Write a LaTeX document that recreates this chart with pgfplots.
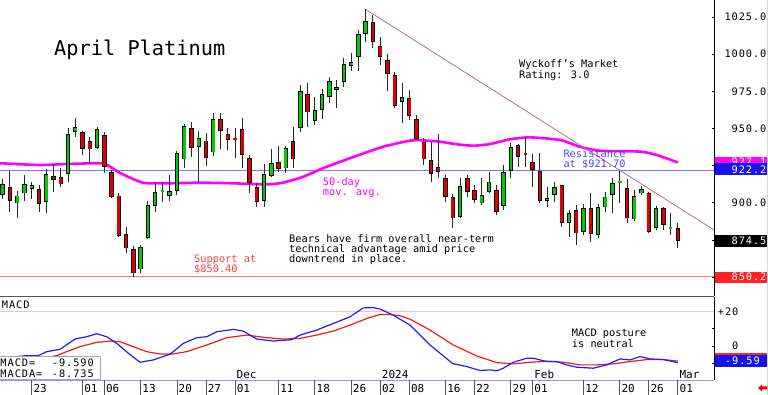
\documentclass[border=0pt]{standalone}
\usepackage{fontspec}
\setmainfont{DejaVu Sans Mono}
\newfontfamily\axf[LetterSpace=9]{DejaVu Sans Mono}
\usepackage{pgfplots}
\usepackage{pgfplotstable}
\pgfplotsset{compat=1.18}
\definecolor{cgreen}{RGB}{0,205,0}
\definecolor{cred}{RGB}{222,0,0}
\definecolor{mag}{RGB}{255,0,255}
\definecolor{resblue}{RGB}{120,120,255}
\definecolor{restext}{RGB}{70,70,255}
\definecolor{supred}{RGB}{255,120,120}
\definecolor{suptext}{RGB}{255,60,60}
\definecolor{trend}{RGB}{180,110,140}
\definecolor{boxblue}{RGB}{20,20,235}
\definecolor{boxred}{RGB}{255,35,35}
\definecolor{mblue}{RGB}{30,30,245}
\definecolor{mred}{RGB}{245,25,25}
\definecolor{sepgray}{RGB}{85,85,85}
\definecolor{pinkline}{RGB}{255,190,190}
\newcommand\af{\axf\fontsize{10.3}{12}\selectfont}
\newcommand\nf{\fontsize{10.3}{12}\selectfont}
\newcommand\df{\fontsize{11}{12}\selectfont}

\pgfplotsset{
  ebar/.style 2 args={draw=none, no markers, forget plot,
    error bars/.cd, y dir=plus, y explicit, error mark=none,
    error bar style={draw=#1, line width=#2, line cap=butt}},
}

\pgfplotstableread{
i o h l c
-4 905.2 915.7 902.3 912.6
-2 899.6 907.7 889.5 904.8
-1 906.3 918.7 901.2 912.4
0 909.5 914.2 902.5 911.7
2 900.7 922.5 892.9 919.3
5 919.3 950.1 913.7 946.0
6 947.4 956.8 944.0 950.7
9 937.0 951.2 936.1 949.8
15 855.2 871.6 852.5 870.0
16 876.5 901.4 875.4 898.5
17 898.0 913.5 894.0 907.4
19 904.8 918.7 901.4 907.7
20 908.1 934.8 905.2 933.2
21 929.2 952.7 923.1 951.6
23 937.7 948.3 914.2 943.3
25 933.9 960.6 931.7 956.3
32 901.2 926.1 896.9 919.1
33 918.0 936.1 917.1 926.5
35 923.1 938.4 919.8 936.6
37 950.1 979.2 947.8 975.2
39 955.2 970.9 952.3 962.4
40 962.4 976.3 956.1 973.0
41 971.4 984.4 966.9 982.1
42 975.9 982.6 964.0 978.1
43 981.5 997.6 977.7 993.1
44 992.0 1001.0 988.7 994.9
45 997.9 1016.2 988.9 1013.5
46 1013.5 1030.1 1008.4 1022.3
51 968.0 980.4 953.4 970.9
59 890.6 916.4 889.5 911.3
62 899.6 916.4 898.5 905.2
63 907.5 920.9 906.3 914.2
65 897.8 925.4 895.1 920.9
66 921.6 940.0 916.4 937.7
71 901.4 910.4 896.9 903.0
72 905.2 914.2 900.7 910.4
74 886.2 895.1 876.7 892.9
76 880.5 899.2 878.3 896.2
78 878.3 899.2 876.1 896.9
79 896.9 907.5 894.0 904.1
80 905.2 916.4 893.3 913.1
83 888.8 908.6 887.9 904.5
84 906.3 911.3 905.2 909.0
86 883.2 897.8 881.7 896.2
}\up

\pgfplotstableread{
i o h l c
-3 910.4 921.3 893.5 901.4
1 909.0 911.9 894.0 899.1
3 918.0 925.8 907.0 915.3
4 917.1 923.6 910.8 912.4
7 947.6 948.3 931.9 936.4
8 941.3 944.4 925.8 935.9
10 945.4 947.8 919.8 924.2
11 920.9 922.0 903.4 904.1
12 904.8 906.3 877.2 877.8
13 878.7 883.9 866.0 869.3
14 868.9 871.1 850.2 852.5
22 950.1 954.3 931.0 937.0
24 941.8 946.7 924.7 929.9
26 956.3 960.1 936.1 948.3
27 946.0 950.0 935.5 942.2
29 949.4 956.8 923.1 932.1
30 930.3 932.1 906.3 913.5
31 910.4 913.5 897.3 900.7
34 927.2 938.4 920.9 922.7
36 941.5 951.2 923.1 929.2
38 973.0 980.4 950.7 960.8
47 1021.4 1026.3 1003.9 1008.4
48 1005.5 1011.8 992.7 997.9
49 996.1 1000.1 975.4 986.6
50 986.0 988.2 963.5 965.1
52 970.2 975.9 955.7 958.4
53 956.4 959.0 942.2 942.7
54 941.1 943.3 925.4 929.2
55 928.8 941.1 914.2 919.3
56 923.8 946.0 916.4 920.9
57 916.4 918.7 900.7 904.1
58 903.7 905.7 882.8 889.5
60 916.4 918.7 904.1 907.5
61 908.6 912.0 899.6 901.9
64 908.6 912.0 891.8 894.0
67 938.9 939.5 924.3 931.0
69 927.6 932.8 910.4 922.0
70 921.6 933.3 900.1 901.4
73 912.0 912.0 883.9 886.6
75 895.1 898.5 871.6 879.4
77 896.2 906.8 873.8 879.0
82 909.7 915.8 886.6 889.5
85 906.3 907.5 879.4 880.5
87 896.2 897.4 881.7 885.0
89 882.8 886.6 869.3 874.5
}\down

\pgfplotstableread{
i o h l c
18 907.9 914.2 900.2 908.3
81 913.5 921.6 900.1 913.9
88 883.0 892.9 878.3 883.4
}\dojiup

\pgfplotstableread{
i o h l c
28 943.1 950.1 929.9 942.7
68 932.7 944.0 924.3 932.3
}\dojidown

\pgfplotstableread{
i v
-4.37 926.6
1.1 925.4
4.9 926.1
9.4 926.6
10.4 925.4
12.2 920.0
15.3 913.5
18.6 913.1
23.2 913.5
27.7 913.1
31.4 912.4
32.8 912.4
34.6 913.5
37.4 917.5
40.1 923.2
43.8 929.9
48.4 937.7
52.1 941.8
53.1 942.2
56.2 941.1
58.6 939.3
60.8 938.4
63.1 939.5
65.9 942.7
68.6 944.0
72.8 942.2
75.5 937.7
78.3 935.0
83.8 934.4
86.1 932.1
89.0 927.1
}\ma

\pgfplotstableread{
i v
-4.3 -7.0
-2.5 -6.3
-0.69 -5.56
0.91 -5.56
2.07 -3.26
3.90 -1.92
5.96 4.02
7.57 5.36
8.95 7.09
10.33 5.36
11.71 1.53
13.31 -4.21
14.92 -9.39
16.75 -8.05
19.05 -4.79
20.88 1.53
22.73 4.79
24.10 5.36
25.48 8.24
27.77 9.58
29.15 8.62
30.99 4.02
33.28 2.87
35.81 3.64
36.96 6.32
39.26 9.20
41.54 13.03
43.84 16.86
45.67 22.03
47.05 22.22
48.0 21.3
49.81 17.82
52.11 12.07
54.86 0.57
57.99 -10.15
59.92 -11.88
61.75 -14.18
63.13 -13.79
64.05 -14.37
64.96 -12.84
66.34 -9.39
68.18 -7.09
69.10 -7.09
70.94 -9.0
72.31 -9.0
73.69 -10.92
75.07 -12.26
77.35 -12.84
79.20 -10.92
81.03 -7.47
82.41 -8.05
83.79 -6.13
85.16 -7.47
87.0 -7.85
89.0 -9.59
}\macd

\pgfplotstableread{
i v
-4.3 -9.0
0.5 -7.8
3.44 -5.56
4.82 -3.26
6.65 -0.38
8.95 2.11
10.79 2.87
12.16 2.49
13.99 -0.38
15.84 -3.26
17.67 -4.60
19.50 -4.60
21.35 -3.26
24.10 0.57
26.86 4.79
29.61 6.32
32.37 4.79
34.66 4.02
36.96 4.41
39.26 6.32
41.54 8.62
43.84 12.07
46.14 15.90
47.98 18.20
49.36 18.20
50.73 17.43
52.11 15.52
54.86 9.20
58.07 0.57
61.29 -5.75
64.05 -9.58
66.34 -10.34
68.64 -9.39
70.94 -8.81
73.23 -9.39
75.52 -10.92
77.82 -10.92
80.11 -10.34
82.41 -9.0
84.71 -7.85
87.0 -7.85
89.0 -8.735
}\macda

\begin{document}
\begin{tikzpicture}[x=1pt,y=1pt]
\useasboundingbox (0,0) rectangle (768,395);
% ---------- main price panel ----------
\begin{axis}[at={(0pt,99pt)}, anchor=south west, scale only axis,
  width=714pt, height=296pt,
  xmin=-4.37, xmax=93.98, ymin=837.26, ymax=1036.44,
  axis x line=none, axis y line*=right,
  y axis line style={black, line width=0.8pt},
  ytick={850,875,900,925,950,975,1000,1025},
  yticklabels={,,900.0,,950.0,975.0,1000.0,1025.0},
  tick align=inside, major tick length=2.5pt,
  ytick style={black, line width=0.6pt},
  yticklabel style={font=\af, anchor=east, inner sep=0pt, xshift=52.6pt},
]
\addplot[supred, line width=0.8pt] coordinates {(-4.37,850.4) (93.98,850.4)};
\addplot[resblue, line width=0.8pt] coordinates {(-4.37,921.7) (93.98,921.7)};
\addplot[mag, line width=2.6pt, smooth, tension=0.4] table[x=i, y=v] {\ma};
\addplot[trend, line width=0.8pt] coordinates {(46,1030.1) (93.98,881.7)};
% wicks
\addplot[ebar={black!85}{0.9pt}] table[x=i, y=l, y error expr=\thisrow{h}-\thisrow{l}] {\up};
\addplot[ebar={black!85}{0.9pt}] table[x=i, y=l, y error expr=\thisrow{h}-\thisrow{l}] {\down};
\addplot[ebar={black!85}{0.9pt}] table[x=i, y=l, y error expr=\thisrow{h}-\thisrow{l}] {\dojiup};
\addplot[ebar={black!85}{0.9pt}] table[x=i, y=l, y error expr=\thisrow{h}-\thisrow{l}] {\dojidown};
% bodies: outline
\addplot[ebar={black}{4.4pt}] table[x=i, y=o, y error expr=\thisrow{c}-\thisrow{o}] {\up};
\addplot[ebar={black}{4.4pt}] table[x=i, y=c, y error expr=\thisrow{o}-\thisrow{c}] {\down};
% bodies: fill
\addplot[ebar={cgreen}{2.7pt}] table[x=i, y expr=\thisrow{o}+0.55, y error expr=\thisrow{c}-\thisrow{o}-1.1] {\up};
\addplot[ebar={cred}{2.7pt}] table[x=i, y expr=\thisrow{c}+0.55, y error expr=\thisrow{o}-\thisrow{c}-1.1] {\down};
% doji dashes
\addplot[ebar={cgreen}{3.6pt}] table[x=i, y expr=\thisrow{o}-0.45, y error expr=\thisrow{c}-\thisrow{o}+0.9] {\dojiup};
\addplot[ebar={cred}{3.6pt}] table[x=i, y expr=\thisrow{c}-0.45, y error expr=\thisrow{o}-\thisrow{c}+0.9] {\dojidown};
\end{axis}
% ---------- MACD panel ----------
\begin{axis}[at={(0pt,15pt)}, anchor=south west, scale only axis,
  width=714pt, height=83pt,
  xmin=-4.37, xmax=93.98, ymin=-19.65, ymax=28.33,
  axis x line*=bottom, axis y line*=right,
  x axis line style={draw=resblue!80, line width=0.8pt},
  y axis line style={black, line width=0.8pt},
  xtick=\empty,
  ytick={-10,0,10,20}, yticklabels={,0,,+20},
  tick align=inside, major tick length=2.5pt,
  ytick style={black, line width=0.6pt},
  yticklabel style={font=\af, anchor=east, inner sep=0pt, xshift=24.6pt},
  clip=true,
]
\addplot[pinkline, line width=0.8pt] coordinates {(-4.37,20) (93.98,20)};
\addplot[mred, line width=1.2pt] table[x=i, y=v] {\macda};
\addplot[mblue, line width=1.2pt] table[x=i, y=v] {\macd};
\node[font=\df, anchor=base west, inner sep=0pt, xshift=1.5pt] at (axis cs:28,-19.07) {Dec};
\node[font=\df, anchor=base west, inner sep=0pt, xshift=1.5pt] at (axis cs:48,-19.07) {2024};
\node[font=\df, anchor=base west, inner sep=0pt, xshift=1.5pt] at (axis cs:69,-19.07) {Feb};
\node[font=\df, anchor=base west, inner sep=0pt, xshift=1.5pt] at (axis cs:89,-19.07) {Mar};
\end{axis}
% ---------- date row ----------
\begin{axis}[at={(0pt,0pt)}, anchor=south west, scale only axis,
  width=714pt, height=15pt,
  xmin=-4.37, xmax=93.98, ymin=0, ymax=1,
  axis x line*=bottom, axis y line=none,
  x axis line style={draw=none},
  xtick={0,7,10,15,20,24,28,34,39,44,48,52,57,61,66,69,76,81,85,89},
  xticklabels={23,01,06,13,20,27,01,11,18,26,02,08,16,22,29,01,12,20,26,01},
  tick align=inside, major tick length=15pt,
  xtick style={sepgray, line width=0.8pt},
  xticklabel style={font=\df, anchor=base west, inner sep=0pt, xshift=1.6pt, yshift=2.7pt},
]
\end{axis}
% ---------- decorations and labels ----------
\draw[sepgray, line width=1.4pt] (0,98.5) -- (714,98.5);
\draw[gray!30, line width=0.8pt] (767.6,0) -- (767.6,395);
% MACD value box
\filldraw[fill=white, draw=gray!70, line width=0.8pt] (-2,15.4) rectangle (100.3,39);
\node[font=\af, anchor=base west, inner sep=0pt] at (0.3,28.3) {MACD=};
\node[font=\af, anchor=base west, inner sep=0pt] at (51.7,28.3) {-9.590};
\node[font=\af, anchor=base west, inner sep=0pt] at (0.3,17.3) {MACDA=};
\node[font=\af, anchor=base west, inner sep=0pt] at (51.7,17.3) {-8.735};
\node[font=\af, anchor=base west, inner sep=0pt] at (1.7,86.7) {MACD};
% right value boxes
\fill[mag] (715,225.5) rectangle (766.7,237.7);
\node[font=\af, text=white, anchor=base east, inner sep=0pt] at (766.6,229.8) {927.1};
\fill[boxblue] (715,220) rectangle (766.7,232.3);
\node[font=\af, text=white, anchor=base east, inner sep=0pt] at (766.6,221.7) {922.2};
\fill[black] (715,148.3) rectangle (766.7,160);
\node[font=\af, text=white, anchor=base east, inner sep=0pt] at (766.6,150.7) {874.5};
\fill[boxred] (715,112.3) rectangle (766.7,123.3);
\node[font=\af, text=white, anchor=base east, inner sep=0pt] at (766.6,114.3) {850.2};
\fill[boxred] (715,30) rectangle (766.7,41.7);
\fill[boxblue] (715,27.7) rectangle (766.7,40);
\node[font=\af, text=white, anchor=base east, inner sep=0pt] at (759.9,30) {-9.59};
% red arrow
\fill[red] (758,7) -- (762,10.5) -- (762,8.5) -- (767,8.5) -- (767,5.5) -- (762,5.5) -- (762,3.5) -- cycle;
% annotations
\node[font=\fontsize{20.3}{22}\selectfont, anchor=base west, inner sep=0pt] at (54,339) {April Platinum};
\node[font=\nf, anchor=base west, inner sep=0pt] at (519,327.3) {Wyckoff's Market};
\node[font=\nf, anchor=base west, inner sep=0pt] at (519,316.7) {Rating: 3.0};
\node[font=\nf, text=restext, anchor=base west, inner sep=0pt] at (563.3,237.7) {Resistance};
\node[font=\nf, text=restext, anchor=base west, inner sep=0pt] at (563.3,227.7) {at \$921.70};
\node[font=\nf, text=mag, anchor=base west, inner sep=0pt] at (322.7,209) {50-day};
\node[font=\nf, text=mag, anchor=base west, inner sep=0pt] at (322.7,199) {mov. avg.};
\node[font=\nf, anchor=base west, inner sep=0pt] at (289,152.7) {Bears have firm overall near-term};
\node[font=\nf, anchor=base west, inner sep=0pt] at (289,142.3) {technical advantage amid price};
\node[font=\nf, anchor=base west, inner sep=0pt] at (289,132) {downtrend in place.};
\node[font=\nf, text=suptext, anchor=base west, inner sep=0pt] at (194,132.3) {Support at};
\node[font=\nf, text=suptext, anchor=base west, inner sep=0pt] at (194,122.3) {\$850.40};
\node[font=\nf, anchor=base west, inner sep=0pt] at (571.7,58.3) {MACD posture};
\node[font=\nf, anchor=base west, inner sep=0pt] at (571.7,47.7) {is neutral};
\end{tikzpicture}
\end{document}
